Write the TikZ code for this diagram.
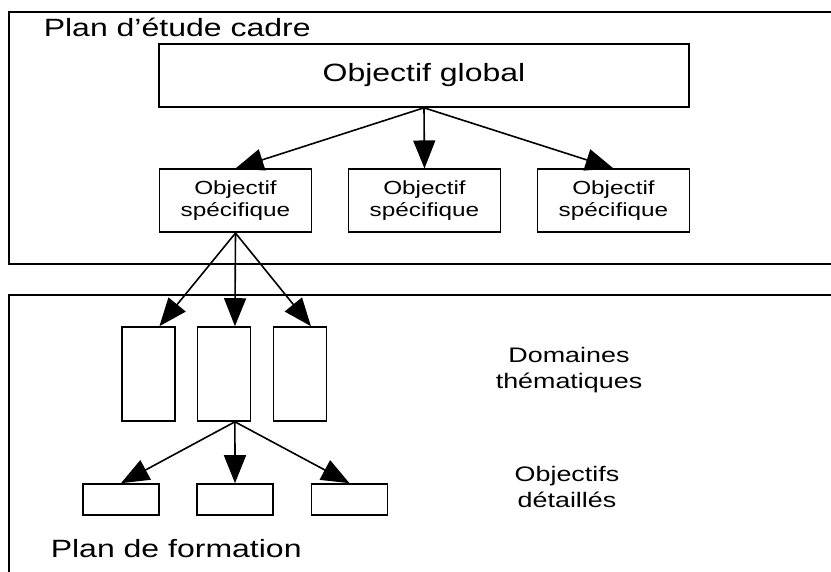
\documentclass[tikz,border=0pt]{standalone}
\usepackage{fontspec}
\setmainfont{Liberation Sans}[FakeStretch=1.28]
\usetikzlibrary{arrows.meta,calc}
\begin{document}
\begin{tikzpicture}[x=1pt,y=-1pt,line width=1.6pt,
  box/.style={draw,line width=1.6pt,inner sep=0pt,align=center},
  lbl/.style={inner sep=0pt,align=center},
  big/.style={font=\fontsize{25}{30}\selectfont},
  mid/.style={font=\fontsize{21}{26}\selectfont},
  small/.style={font=\fontsize{19}{22}\selectfont},
  spec/.style={box,small,minimum width=152pt,minimum height=63pt},
  dom/.style={box,minimum width=53pt,minimum height=94pt},
  det/.style={box,minimum width=76pt,minimum height=31pt},
  arr/.style={-{Triangle[length=28pt,width=22pt]},line width=1.6pt}]
\useasboundingbox (0,0) rectangle (831,571);
\clip (0,0) rectangle (831,571);
% frames
\draw[overlay] (9,12) rectangle (845,264);
\draw[overlay] (9,295) rectangle (845,590);
\node[lbl,big,anchor=base west] (t1) at (43,36) {Plan d’étude cadre};
\node[lbl,big,anchor=base west] (t2) at (50,557) {Plan de formation};
% top part
\node[box,big,minimum width=530pt,minimum height=63pt] (g) at (424,75.5) {Objectif global};
\node[spec] (s1) at (235.5,200.75) {Objectif\\spécifique};
\node[spec] (s2) at (424.5,200.75) {Objectif\\spécifique};
\node[spec] (s3) at (613.5,200.75) {Objectif\\spécifique};
\draw[arr] (g.south) -- (s1.north);
\draw[arr] (g.south) -- (s2.north);
\draw[arr] (g.south) -- (s3.north);
% domains
\node[dom] (dA) at (148.5,374) {};
\node[dom] (dB) at (224,374) {};
\node[dom] (dC) at (300,374) {};
\draw[arr] (s1.south) -- ($(dA.north west)!0.7!(dA.north east)$);
\draw[arr] (s1.south) -- ($(dB.north west)!0.7!(dB.north east)$);
\draw[arr] (s1.south) -- ($(dC.north west)!0.7!(dC.north east)$);
% details
\node[det] (d1) at (121,499.5) {};
\node[det] (d2) at (235,499.5) {};
\node[det] (d3) at (349.5,499.5) {};
\coordinate (dBs) at ($(dB.south west)!0.7!(dB.south east)$);
\draw[arr] (dBs) -- (d1.north);
\draw[arr] (dBs) -- (d2.north);
\draw[arr] (dBs) -- (d3.north);
% labels
\node[lbl,mid] (l1) at (569,370.5) {Domaines\\thématiques};
\node[lbl,mid] (l2) at (567,486.5) {Objectifs\\détaillés};
\end{tikzpicture}
\end{document}
